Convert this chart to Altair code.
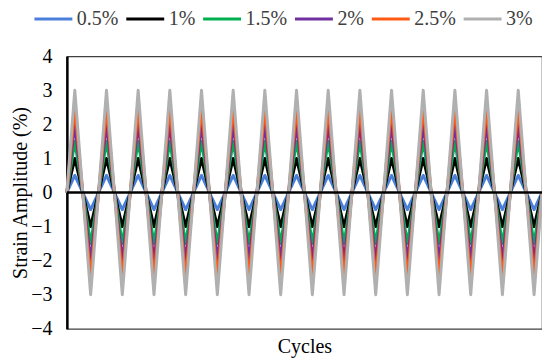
import altair as alt
import pandas as pd

series_names = ["0.5%", "1%", "1.5%", "2%", "2.5%", "3%"]
amplitudes = [0.5, 1.0, 1.5, 2.0, 2.5, 3.0]
colors = ["#4a7fdc", "#000000", "#00b050", "#7030a0", "#ff5a14", "#b0b0b0"]

# cycle positions of the turning points (15 cycles)
cycle_pos = [0, 0.25, 0.75, 1.25, 1.75, 2.25, 2.75, 3.25, 3.75, 4.25, 4.75,
             5.25, 5.75, 6.25, 6.75, 7.25, 7.75, 8.25, 8.75, 9.25, 9.75,
             10.25, 10.75, 11.25, 11.75, 12.25, 12.75, 13.25, 13.75,
             14.25, 14.75, 15]
# direction of each turning point (+ peak, - trough)
peak_sign = [0, 1, -1, 1, -1, 1, -1, 1, -1, 1, -1,
             1, -1, 1, -1, 1, -1, 1, -1, 1, -1,
             1, -1, 1, -1, 1, -1, 1, -1,
             1, -1, 0]

y_ticks = [-4, -3, -2, -1, 0, 1, 2, 3, 4]

rows = []
for k, (name, amp) in enumerate(zip(series_names, amplitudes)):
    for i, (c, s) in enumerate(zip(cycle_pos, peak_sign)):
        rows.append({"series": name, "cycle": c, "strain": amp * s,
                     "k": k, "i": i})
df = pd.DataFrame(rows)

FONT = "Liberation Serif"
FS = 20

y_scale = alt.Scale(domain=[-4, 4], nice=False)
y_axis = alt.Axis(title="Strain Amplitude (%)", values=y_ticks,
                  tickCount=9, format="d", ticks=False, grid=False,
                  labelOverlap=False, labelPadding=15, titlePadding=0)

lines = alt.Chart(df).mark_line(strokeWidth=3, strokeJoin="round").encode(
    x=alt.X("cycle:Q",
            scale=alt.Scale(domain=[0, 15], nice=False, zero=False),
            axis=alt.Axis(title="Cycles", labels=False, ticks=False,
                          domain=False, grid=False,
                          labelPadding=0, titlePadding=8)),
    y=alt.Y("strain:Q", scale=y_scale, axis=y_axis),
    color=alt.Color("series:N",
                    scale=alt.Scale(domain=series_names, range=colors),
                    sort=series_names,
                    legend=alt.Legend(title=None, orient="none",
                                      direction="horizontal",
                                      legendX=-34, legendY=-58, padding=0,
                                      symbolType="stroke", symbolSize=1444,
                                      symbolStrokeWidth=3, labelOffset=3,
                                      columnPadding=1)),
    order=alt.Order("i:Q"),
    detail="k:Q",
)

zero = alt.Chart(pd.DataFrame({"z": [0]})).mark_rule(
    color="#000000", strokeWidth=2.5).encode(
    y=alt.YDatum(0, scale=y_scale, axis=y_axis))

chart = alt.layer(lines, zero).properties(
    width=476, height=273,
    autosize=alt.AutoSizeParams(type="none"),
    padding={"left": 59, "top": 48, "right": 0, "bottom": 34},
).configure(font=FONT).configure_axis(
    labelFont=FONT, labelFontSize=FS, labelColor="#000000",
    titleFont=FONT, titleFontSize=FS, titleFontWeight="normal",
    titleColor="#000000", tickSize=0,
).configure_axisY(
    domainColor="#000000", domainWidth=2.5, labelOverlap=False,
).configure_legend(
    labelFont=FONT, labelFontSize=FS, labelColor="#404040",
).configure_view(stroke="#404040", strokeWidth=1.2)

chart.save("out.html", embed_options={"renderer": "svg", "actions": False})
